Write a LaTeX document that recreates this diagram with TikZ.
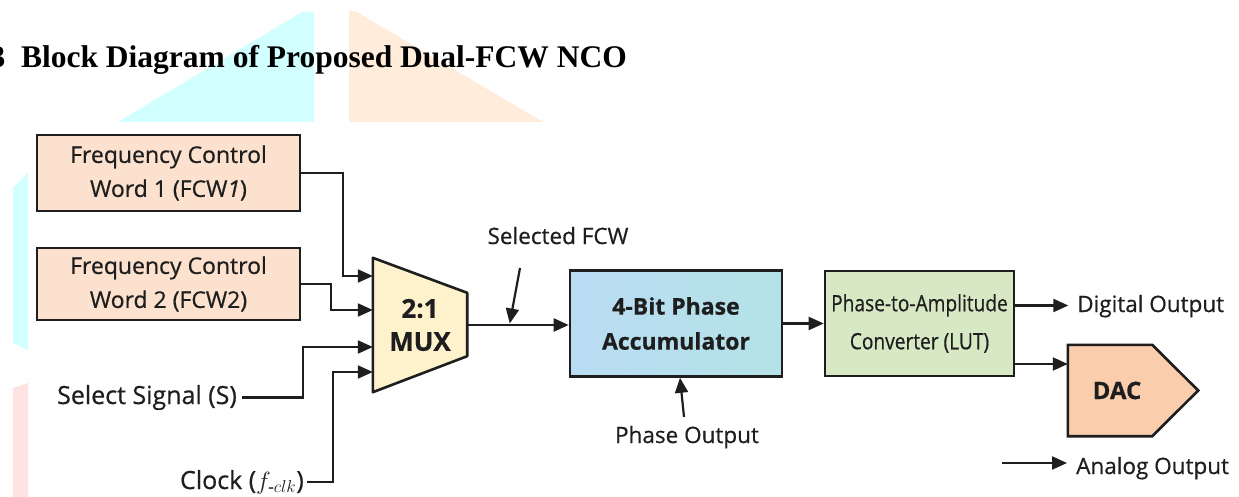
\documentclass[tikz,border=0pt]{standalone}
\usepackage{amsmath}
\usepackage{graphicx}
\usepackage{fontspec}
\setmainfont{Liberation Serif}
\newfontfamily\diagfont{Open Sans}[FakeBold=0.6]
\usepackage{xcolor}
\usepackage{tikz}
\usetikzlibrary{positioning,arrows.meta,backgrounds}

\definecolor{boxline}{HTML}{1E1E1E}
\definecolor{fcwfill}{HTML}{FBE1CE}
\definecolor{muxfill}{HTML}{FDF2CC}
\definecolor{accleft}{HTML}{B9DCF3}
\definecolor{accright}{HTML}{B4E2E6}
\definecolor{lutfill}{HTML}{D6E8C4}
\definecolor{dacfill}{HTML}{FACDAC}
\definecolor{wmcyan}{HTML}{D2FFFF}
\definecolor{wmorange}{HTML}{FFECDA}
\definecolor{wmpink}{HTML}{FFE2E2}

\begin{document}
\begin{tikzpicture}[x=1pt,y=-1pt,
    box/.style={draw=boxline,line width=2.6pt,align=center,text=boxline,
        font=\diagfont\fontsize{23}{34}\selectfont},
    boldbox/.style={box,font=\diagfont\bfseries\fontsize{23}{35}\selectfont},
    lbl/.style={font=\diagfont\fontsize{22.5}{26}\selectfont,text=boxline,inner sep=0pt},
    biglbl/.style={lbl,font=\diagfont\fontsize{25}{28}\selectfont},
    sig/.style={draw=boxline,line width=2.2pt,-{Triangle[length=15pt,width=13pt]}}]
    \useasboundingbox (0,0) rectangle (1239,497);

    % page background
    \begin{scope}[on background layer]
        \fill[white] (0,0) rectangle (1239,497);
        \fill[wmcyan] (118,122) -- (302,12) -- (314,12) -- (314,122) -- cycle;
        \fill[wmorange] (349,11) -- (355,11) -- (543,122) -- (349,122) -- cycle;
        \fill[wmcyan] (13,188) -- (28,173) -- (28,350) -- (13,343) -- cycle;
        \fill[wmpink] (13,388) -- (28,383) -- (28,497) -- (13,497) -- cycle;
    \end{scope}

    \node[anchor=base east,inner sep=0pt,font=\bfseries\fontsize{31.5}{36}\selectfont] (title)
        at (627,68) {3\hspace{0.5em}Block Diagram of Proposed Dual-FCW NCO};

    % inputs
    \node[box,fill=fcwfill,minimum width=263,minimum height=76] (fcw1) at (168.5,173)
        {Frequency Control\\Word 1 (FCW\textit{1})};
    \node[box,fill=fcwfill,minimum width=263,minimum height=72] (fcw2) at (168.5,284)
        {Frequency Control\\Word 2 (FCW2)};
    \node[biglbl,anchor=base east] (sel) at (237,404) {Select Signal (S)};
    \node[biglbl,anchor=base east] (clk) at (304,489) {Clock ($f_{\text{-}clk}$)};

    % mux
    \node[inner sep=0pt,minimum width=94,minimum height=134,align=center,text=boxline,
        font=\diagfont\bfseries\fontsize{26}{33}\selectfont] (mux) at (420,325) {2:1\\MUX};
    \begin{scope}[on background layer]
        \filldraw[draw=boxline,fill=muxfill,line width=2.6pt,line join=round]
            (mux.north west) -- ([yshift=-35]mux.north east) -- ([yshift=36]mux.south east)
            -- (mux.south west) -- cycle;
    \end{scope}
    \coordinate (in1) at ([yshift=49]mux.west);
    \coordinate (in2) at ([yshift=15]mux.west);
    \coordinate (in3) at ([yshift=-22]mux.west);
    \coordinate (in4) at ([yshift=-47]mux.west);

    % processing chain
    \node[boldbox,left color=accleft,right color=accright,minimum width=212,minimum height=106]
        (acc) at (676,323.5) {4-Bit Phase\\Accumulator};
    \node[box,fill=lutfill,minimum width=189,minimum height=105,
        font=\diagfont\fontsize{22.5}{38}\selectfont] (lut) at (919.5,323.5)
        {\scalebox{0.85}[1]{Phase-to-Amplitude}\\\scalebox{0.85}[1]{Converter (LUT)}};
    \node[inner sep=0pt,minimum width=98,minimum height=91,text=boxline,
        font=\diagfont\bfseries\fontsize{24}{28}\selectfont] (dac) at (1117,390.5) {DAC};
    \begin{scope}[on background layer]
        \filldraw[draw=boxline,fill=dacfill,line width=2.6pt,line join=miter]
            (dac.north west) -- ([xshift=-14]dac.north east) -- ([xshift=32]dac.east)
            -- ([xshift=-14]dac.south east) -- (dac.south west) -- cycle;
    \end{scope}

    \node[lbl,anchor=base] (selfcw) at (558,244) {Selected FCW};
    \node[lbl,anchor=base] (phout) at (687,443) {Phase Output};
    \node[lbl,anchor=base west] (dig) at (1077,312) {Digital Output};
    \node[lbl,anchor=base west] (ana) at (1076,474) {Analog Output};
    \coordinate (anatail) at (1002,463);

    % connections
    \draw[sig] (fcw1.east) -- ++(42,0) |- (in1);
    \draw[sig] (fcw2.east) -- ++(30,0) |- (in2);
    \draw[sig] ([xshift=5]sel.east) -- ++(61,0) |- (in3);
    \draw[sig] ([xshift=3]clk.east) -- ++(26,0) |- (in4);
    \draw[sig] (mux.east) -- (mux.east -| acc.west);
    \draw[sig] ([xshift=-38,yshift=-24]selfcw.base) -- ([xshift=-59]acc.west);
    \draw[sig] ([xshift=-3,yshift=26]phout.base) -- ([xshift=4]acc.south);
    \draw[sig] (acc.east) -- (lut.west);
    \draw[sig] ([yshift=18]lut.east) -- ++(53,0);
    \draw[sig] ([yshift=-40.5]lut.east) -- ([yshift=-40.5]lut.east -| dac.west);
    \draw[sig] (anatail) -- ++(65,0);
\end{tikzpicture}
\end{document}
